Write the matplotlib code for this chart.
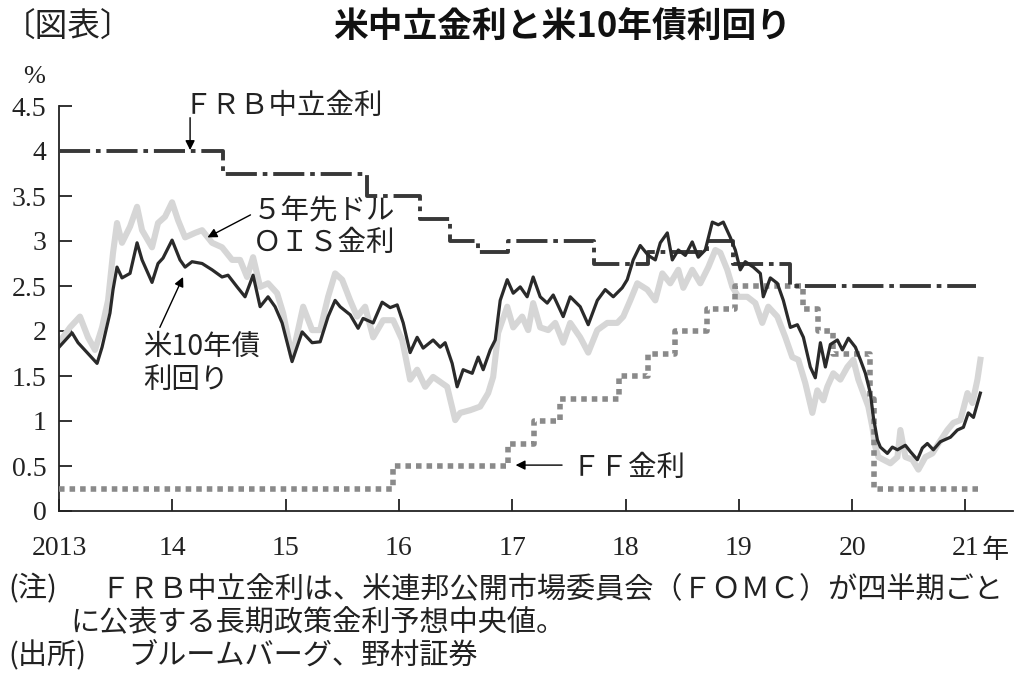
import matplotlib
matplotlib.use("Agg")
import matplotlib.pyplot as plt

plt.rcParams['font.family'] = ['Liberation Serif', 'Noto Sans CJK JP', 'DejaVu Sans']
JP = ['Noto Sans CJK JP', 'DejaVu Sans']

# 米10年債利回り（%）
ust10_year = [2013.000, 2013.115, 2013.168, 2013.256, 2013.336, 2013.380, 2013.450, 2013.477,
              2013.512, 2013.556, 2013.627, 2013.689, 2013.733, 2013.821, 2013.874, 2013.918,
              2013.998, 2014.068, 2014.113, 2014.174, 2014.263, 2014.351, 2014.439, 2014.492,
              2014.572, 2014.642, 2014.713, 2014.775, 2014.845, 2014.907, 2014.969, 2015.057,
              2015.146, 2015.234, 2015.305, 2015.375, 2015.437, 2015.481, 2015.570, 2015.640,
              2015.684, 2015.773, 2015.852, 2015.923, 2015.985, 2016.038, 2016.099, 2016.161,
              2016.214, 2016.302, 2016.364, 2016.408, 2016.470, 2016.514, 2016.567, 2016.647,
              2016.700, 2016.744, 2016.806, 2016.850, 2016.894, 2016.956, 2017.009, 2017.071,
              2017.132, 2017.185, 2017.247, 2017.309, 2017.362, 2017.450, 2017.512, 2017.600,
              2017.671, 2017.751, 2017.821, 2017.892, 2017.971, 2018.015, 2018.068, 2018.130,
              2018.201, 2018.263, 2018.307, 2018.369, 2018.413, 2018.466, 2018.528, 2018.589,
              2018.642, 2018.704, 2018.766, 2018.819, 2018.863, 2018.925, 2018.969, 2019.013,
              2019.057, 2019.128, 2019.190, 2019.216, 2019.278, 2019.340, 2019.393, 2019.455,
              2019.517, 2019.570, 2019.631, 2019.675, 2019.720, 2019.764, 2019.808, 2019.870,
              2019.914, 2019.967, 2020.029, 2020.073, 2020.117, 2020.161, 2020.188, 2020.223,
              2020.249, 2020.311, 2020.355, 2020.400, 2020.470, 2020.514, 2020.576, 2020.620,
              2020.664, 2020.717, 2020.779, 2020.868, 2020.929, 2020.982, 2021.026, 2021.071,
              2021.132]
ust10 = [1.82, 1.98, 1.87, 1.75, 1.64, 1.82, 2.20, 2.46,
         2.71, 2.59, 2.64, 2.98, 2.79, 2.54, 2.75, 2.81,
         3.01, 2.79, 2.71, 2.77, 2.75, 2.68, 2.60, 2.62,
         2.49, 2.38, 2.62, 2.27, 2.38, 2.27, 2.09, 1.66,
         1.99, 1.87, 1.88, 2.16, 2.34, 2.27, 2.18, 2.03,
         2.14, 2.09, 2.32, 2.26, 2.29, 2.09, 1.76, 1.93,
         1.81, 1.90, 1.82, 1.87, 1.64, 1.38, 1.57, 1.53,
         1.71, 1.57, 1.79, 1.90, 2.34, 2.57, 2.42, 2.49,
         2.38, 2.60, 2.38, 2.31, 2.40, 2.16, 2.38, 2.27,
         2.07, 2.34, 2.46, 2.38, 2.48, 2.57, 2.79, 2.95,
         2.84, 2.79, 2.98, 3.09, 2.79, 2.90, 2.84, 2.99,
         2.82, 2.90, 3.21, 3.18, 3.21, 3.04, 2.90, 2.68,
         2.77, 2.71, 2.64, 2.38, 2.59, 2.53, 2.34, 2.04,
         2.07, 1.93, 1.60, 1.48, 1.87, 1.60, 1.85, 1.90,
         1.79, 1.92, 1.82, 1.68, 1.53, 1.31, 1.04, 0.79,
         0.71, 0.64, 0.71, 0.68, 0.73, 0.66, 0.57, 0.70,
         0.75, 0.68, 0.77, 0.82, 0.90, 0.93, 1.09, 1.04,
         1.31]

# 5年先ドルOIS金利（%）
ois_year = [2013.000, 2013.097, 2013.185, 2013.256, 2013.318, 2013.380, 2013.433, 2013.477,
            2013.512, 2013.556, 2013.627, 2013.689, 2013.733, 2013.821, 2013.874, 2013.936,
            2013.998, 2014.051, 2014.113, 2014.201, 2014.263, 2014.351, 2014.439, 2014.528,
            2014.598, 2014.660, 2014.713, 2014.775, 2014.845, 2014.925, 2014.978, 2015.057,
            2015.155, 2015.234, 2015.305, 2015.375, 2015.437, 2015.499, 2015.570, 2015.631,
            2015.702, 2015.773, 2015.861, 2015.949, 2016.029, 2016.099, 2016.161, 2016.232,
            2016.302, 2016.382, 2016.426, 2016.497, 2016.541, 2016.629, 2016.717, 2016.788,
            2016.832, 2016.876, 2016.956, 2017.009, 2017.088, 2017.141, 2017.185, 2017.247,
            2017.318, 2017.380, 2017.450, 2017.512, 2017.600, 2017.671, 2017.751, 2017.839,
            2017.927, 2017.980, 2018.042, 2018.104, 2018.192, 2018.263, 2018.325, 2018.395,
            2018.466, 2018.510, 2018.589, 2018.660, 2018.731, 2018.793, 2018.837, 2018.898,
            2018.943, 2018.996, 2019.075, 2019.146, 2019.207, 2019.260, 2019.340, 2019.411,
            2019.472, 2019.525, 2019.587, 2019.649, 2019.693, 2019.746, 2019.781, 2019.834,
            2019.896, 2019.958, 2020.011, 2020.055, 2020.099, 2020.143, 2020.179, 2020.205,
            2020.232, 2020.276, 2020.338, 2020.400, 2020.426, 2020.470, 2020.532, 2020.585,
            2020.647, 2020.709, 2020.762, 2020.841, 2020.894, 2020.956, 2021.018, 2021.062,
            2021.106, 2021.132]
ois = [1.87, 2.04, 2.16, 1.93, 1.79, 2.04, 2.34, 2.87,
       3.20, 2.98, 3.16, 3.38, 3.12, 2.93, 3.20, 3.27,
       3.43, 3.23, 3.04, 3.09, 3.12, 2.98, 2.93, 2.79,
       2.79, 2.60, 2.82, 2.49, 2.53, 2.42, 2.20, 1.71,
       2.27, 2.01, 2.01, 2.38, 2.64, 2.57, 2.34, 2.16,
       2.27, 1.93, 2.12, 2.12, 1.90, 1.46, 1.57, 1.38,
       1.49, 1.42, 1.38, 1.01, 1.09, 1.12, 1.16, 1.31,
       1.49, 1.98, 2.27, 2.04, 2.16, 2.01, 2.31, 2.04,
       2.01, 2.09, 1.87, 2.09, 1.93, 1.76, 2.01, 2.09,
       2.09, 2.16, 2.34, 2.53, 2.46, 2.34, 2.64, 2.53,
       2.68, 2.48, 2.68, 2.53, 2.71, 2.90, 2.87, 2.68,
       2.49, 2.38, 2.38, 2.31, 2.09, 2.27, 2.16, 1.93,
       1.71, 1.68, 1.42, 1.09, 1.34, 1.23, 1.38, 1.53,
       1.46, 1.60, 1.68, 1.46, 1.31, 1.16, 0.93, 0.71,
       0.60, 0.57, 0.53, 0.60, 0.90, 0.60, 0.57, 0.46,
       0.60, 0.64, 0.75, 0.90, 0.98, 1.01, 1.31, 1.20,
       1.46, 1.68]

# FRB中立金利（FOMC長期見通し中央値、%）
frb_year = [2013.00, 2014.45, 2015.72, 2016.19, 2016.45, 2016.70, 2016.96, 2017.72,
            2018.20, 2018.72, 2018.95, 2019.45, 2021.09]
frb = [4.0, 3.75, 3.5, 3.25, 3.0, 2.875, 3.0, 2.75,
       2.875, 3.0, 2.75, 2.5, 2.5]

# FF金利（%）
ff_year = [2013.00, 2015.95, 2016.96, 2017.19, 2017.42, 2017.94, 2018.20, 2018.44,
           2018.72, 2018.97, 2019.57, 2019.70, 2019.83, 2020.16, 2020.19, 2021.11]
ff = [0.25, 0.5, 0.75, 1.0, 1.25, 1.5, 1.75, 2.0,
      2.25, 2.5, 2.25, 2.0, 1.75, 1.25, 0.25, 0.25]

year_ticks = [2013, 2014, 2015, 2016, 2017, 2018, 2019, 2020, 2021]
year_labels = ['2013', '14', '15', '16', '17', '18', '19', '20', '21']
rate_ticks = [0, 0.5, 1, 1.5, 2, 2.5, 3, 3.5, 4, 4.5]
rate_labels = ['0', '0.5', '1', '1.5', '2', '2.5', '3', '3.5', '4', '4.5']

W, H = 1024, 678
fig = plt.figure(figsize=(W / 100, H / 100), dpi=100, facecolor='white')

def fx(px):
    return px / W

def fy(py):
    return 1 - py / H

ax = fig.add_axes([fx(59), fy(511), fx(1013) - fx(59), fy(106) - fy(511)])

ax.plot(ois_year, ois, color='#d6d6d6', lw=4.4, solid_joinstyle='round', zorder=2)
ax.plot(ff_year, ff, color='#8a8a8a', lw=4.0, drawstyle='steps-post',
        linestyle=(0, (1.0, 0.9)), dash_capstyle='butt', zorder=3)
ax.plot(frb_year, frb, color='#383838', lw=2.8, drawstyle='steps-post',
        linestyle=(0, (8, 1.5, 1.2, 1.5)), zorder=4)
ax.plot(ust10_year, ust10, color='#2a2a2a', lw=2.3, solid_joinstyle='round', zorder=5)

ax.set_xlim(2013, 2021.42)
ax.set_ylim(0, 4.5)
ax.set_xticks(year_ticks)
ax.set_xticklabels(year_labels)
ax.set_yticks(rate_ticks)
ax.set_yticklabels(rate_labels)
for s in ['top', 'right']:
    ax.spines[s].set_visible(False)
for s in ['left', 'bottom']:
    ax.spines[s].set_linewidth(1.3)
    ax.spines[s].set_color('#222222')
ax.tick_params(axis='both', direction='in', length=9, width=1.3, color='#222222',
               labelsize=20, labelcolor='#222222')
ax.tick_params(axis='x', pad=18)
ax.tick_params(axis='y', pad=9)

# 注記と矢印
arrow = dict(arrowstyle='-|>', lw=1.0, color='black', mutation_scale=14, shrinkA=0, shrinkB=0)
ax.annotate('', xy=(2014.157, 4.01), xytext=(2014.157, 4.37), arrowprops=arrow)
ax.annotate('', xy=(2014.31, 3.04), xytext=(2014.69, 3.29), arrowprops=arrow)
ax.annotate('', xy=(2014.095, 2.60), xytext=(2013.89, 2.04), arrowprops=arrow)
ax.annotate('', xy=(2017.03, 0.51), xytext=(2017.44, 0.51), arrowprops=arrow)

lab = dict(family=JP, fontsize=20.5, color='#222222', va='center', ha='left')
fig.text(fx(183), fy(106), 'ＦＲＢ中立金利', **lab)
fig.text(fx(253), fy(211), '５年先ドル', **lab)
fig.text(fx(253), fy(243), 'ＯＩＳ金利', **lab)
fig.text(fx(143), fy(347), '米10年債', **lab)
fig.text(fx(143), fy(380), '利回り', **lab)
fig.text(fx(572), fy(468), 'ＦＦ金利', **lab)

fig.text(fx(34), fy(77), '%', family=['Liberation Serif'], fontsize=19, color='#222222',
         ha='center', va='center')
fig.text(fx(982), fy(551), '年', family=JP, fontsize=19.5, color='#222222', ha='left', va='center')

# タイトル
fig.text(fx(3), fy(27), '〔図表〕', family=JP, fontsize=23.5, color='#222222', ha='left', va='center')
fig.text(fx(562), fy(27), '米中立金利と米10年債利回り', family=JP, fontsize=25, fontweight='bold',
         color='#111111', ha='center', va='center')

# 脚注
note = dict(family=JP, fontsize=21, color='#222222', va='center', ha='left')
fig.text(fx(8), fy(589), '(注)', **note)
fig.text(fx(100), fy(589), 'ＦＲＢ中立金利は、米連邦公開市場委員会（ＦＯＭＣ）が四半期ごと', **note)
fig.text(fx(70), fy(623), 'に公表する長期政策金利予想中央値。', **note)
fig.text(fx(8), fy(656), '(出所)', **note)
fig.text(fx(128), fy(656), 'ブルームバーグ、野村証券', **note)

fig.savefig('out.png', dpi=100, facecolor='white')
